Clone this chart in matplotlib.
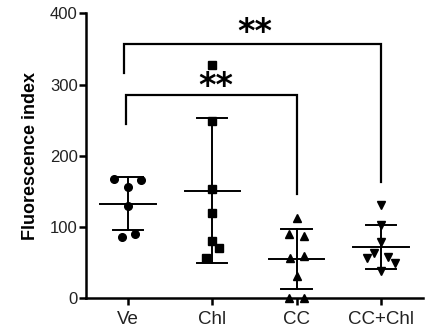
import matplotlib
matplotlib.use("Agg")
import matplotlib.pyplot as plt
import numpy as np

plt.rcParams["font.family"] = ["Liberation Sans", "DejaVu Sans"]

groups = ["Ve", "Chl", "CC", "CC+Chl"]
ve = [168, 166, 156, 130, 91, 86]
chl = [327, 249, 153, 120, 81, 71, 57]
cc = [113, 91, 87, 59, 57, 32, 0, 0]
cc_chl = [131, 103, 79, 63, 56, 58, 49, 39]

# horizontal scatter of points within each group (category units)
ve_jit = [-0.165, 0.158, 0, 0, 0.08, -0.078]
chl_jit = [0, 0, 0, 0, 0, 0.08, -0.08]
cc_jit = [0, -0.087, 0.083, 0.083, -0.078, 0, -0.087, 0.083]
cc_chl_jit = [0, 0, 0, -0.08, -0.158, 0.08, 0.166, 0]

yticks = [0, 100, 200, 300, 400]

data = [ve, chl, cc, cc_chl]
jits = [ve_jit, chl_jit, cc_jit, cc_chl_jit]
markers = ["o", "s", "^", "v"]

fig = plt.figure(figsize=(4.32, 3.33), dpi=100)
ax = fig.add_axes([0.199, 0.104, 0.78, 0.856])

for i, (vals, jit, m) in enumerate(zip(data, jits, markers)):
    vals = np.array(vals, dtype=float)
    ax.plot(i + np.array(jit), vals, m, color="black", markersize=5.5,
            linestyle="none", clip_on=False, zorder=3)
    mean = vals.mean()
    sd = vals.std(ddof=1)
    ax.plot([i - 0.33, i + 0.33], [mean, mean], color="black", lw=1.4, zorder=2)
    ax.plot([i, i], [mean - sd, mean + sd], color="black", lw=1.4, zorder=2)
    for v in (mean - sd, mean + sd):
        ax.plot([i - 0.18, i + 0.18], [v, v], color="black", lw=1.4, zorder=2)


def bracket(x1, x2, y, yl, yr, xstar, ystar):
    ax.plot([x1, x1, x2, x2], [yl, y, y, yr], color="black", lw=1.6,
            clip_on=False, solid_joinstyle="miter")
    ax.text(xstar, ystar, "**", ha="center", va="center",
            fontsize=24, fontweight="bold", family="DejaVu Sans")


# significance brackets
bracket(-0.02, 2.0, 285, 245, 147, 1.04, 298)
bracket(-0.05, 3.0, 357, 316, 163, 1.5, 373)

ax.set_xlim(-0.5, 3.5)
ax.set_ylim(0, 400)
ax.set_yticks(yticks)
ax.set_xticks(range(len(groups)))
ax.set_xticklabels(groups, fontsize=13.5)
ax.tick_params(axis="y", labelsize=12, width=1.8, length=5, colors="black",
               labelcolor="#222222", pad=1)
ax.tick_params(axis="x", width=1.8, length=5, labelcolor="#222222", pad=4)
ax.set_ylabel("Fluorescence index", fontsize=13, fontweight="bold", labelpad=8)

for s in ["top", "right"]:
    ax.spines[s].set_visible(False)
for s in ["left", "bottom"]:
    ax.spines[s].set_linewidth(1.8)

fig.savefig("out.png", dpi=100)
